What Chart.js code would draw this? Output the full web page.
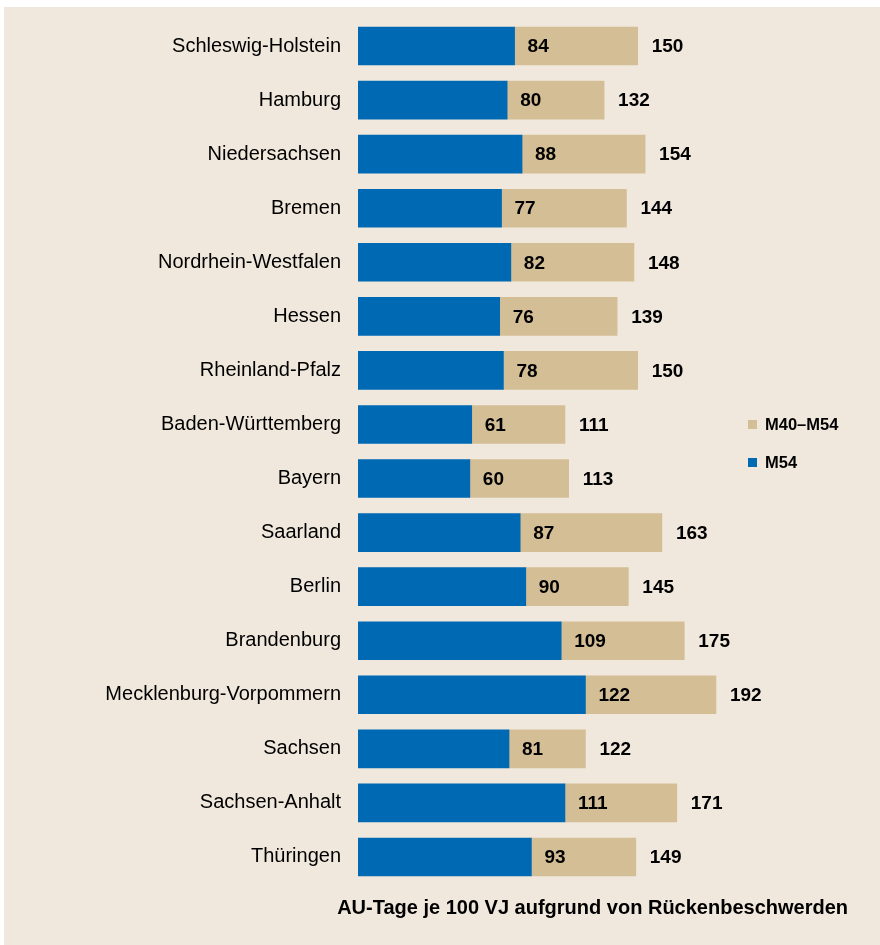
<!DOCTYPE html>
<html>
<head>
<meta charset="utf-8">
<script src="https://cdn.jsdelivr.net/npm/chart.js@4/dist/chart.umd.min.js"></script>
<style>
    html, body { margin: 0; padding: 0; background: #ffffff; }
    #panel { position: absolute; left: 4px; top: 7px; width: 876px; height: 938px; background: #f0e8dc; }
    #wrap { position: absolute; left: 0; top: 0; width: 880px; height: 945px; }
</style>
</head>
<body>
<div id="panel"></div>
<div id="wrap"><canvas id="chart" width="880" height="945"></canvas></div>
<script>
// Daten
const laender = [
    'Schleswig-Holstein', 'Hamburg', 'Niedersachsen', 'Bremen', 'Nordrhein-Westfalen',
    'Hessen', 'Rheinland-Pfalz', 'Baden-Württemberg', 'Bayern', 'Saarland', 'Berlin',
    'Brandenburg', 'Mecklenburg-Vorpommern', 'Sachsen', 'Sachsen-Anhalt', 'Thüringen'
];
const m54 = [84, 80, 88, 77, 82, 76, 78, 61, 60, 87, 90, 109, 122, 81, 111, 93];
const m40m54 = [150, 132, 154, 144, 148, 139, 150, 111, 113, 163, 145, 175, 192, 122, 171, 149];

const BLUE = '#0069b4';
const TAN = '#d4be96';
const FONT = '"Liberation Sans", Arial, sans-serif';

// Rest bis zur Gesamtsumme
const rest = m40m54.map((t, i) => t - m54[i]);

// Beschriftungen, Legende und Achsentitel
const labelPlugin = {
    id: 'labels',
    afterDatasetsDraw(chart) {
        const ctx = chart.ctx;
        const x = chart.scales.x;
        const y = chart.scales.y;
        ctx.save();
        ctx.fillStyle = '#000';
        ctx.font = 'bold 19px ' + FONT;
        ctx.textAlign = 'left';
        ctx.textBaseline = 'middle';
        laender.forEach((l, i) => {
            const yy = y.getPixelForValue(i) + 1;
            ctx.fillText(String(m54[i]), x.getPixelForValue(m54[i]) + 13, yy);
            ctx.fillText(String(m40m54[i]), x.getPixelForValue(m40m54[i]) + 14, yy);
        });

        // Legende
        ctx.font = 'bold 16.5px ' + FONT;
        ctx.fillStyle = TAN;
        ctx.fillRect(748, 420, 9, 9);
        ctx.fillStyle = BLUE;
        ctx.fillRect(748, 458, 9, 9);
        ctx.fillStyle = '#000';
        ctx.fillText('M40–M54', 765, 425);
        ctx.fillText('M54', 765, 463);

        // Titel unten
        ctx.font = 'bold 20px ' + FONT;
        ctx.textAlign = 'right';
        ctx.fillText('AU-Tage je 100 VJ aufgrund von Rückenbeschwerden', 848, 908);
        ctx.restore();
    }
};

new Chart(document.getElementById('chart'), {
    type: 'bar',
    data: {
        labels: laender,
        datasets: [{
            label: 'M54',
            data: m54,
            backgroundColor: BLUE,
            barThickness: 38
        }, {
            label: 'M40–M54',
            data: rest,
            backgroundColor: TAN,
            barThickness: 38
        }]
    },
    options: {
        indexAxis: 'y',
        responsive: false,
        animation: false,
        layout: { padding: { left: 0, right: 0, top: 19, bottom: 61 } },
        plugins: {
            legend: { display: false },
            tooltip: { enabled: false }
        },
        scales: {
            x: {
                stacked: true,
                display: false,
                min: 0,
                max: 280
            },
            y: {
                stacked: true,
                grid: { display: false },
                border: { display: false },
                ticks: {
                    color: '#000',
                    padding: 9,
                    font: { family: FONT, size: 20 }
                },
                afterFit(scale) {
                    scale.width = 358;
                    scale.paddingTop = 0;
                    scale.paddingBottom = 0;
                }
            }
        }
    },
    plugins: [labelPlugin]
});
</script>
</body>
</html>
